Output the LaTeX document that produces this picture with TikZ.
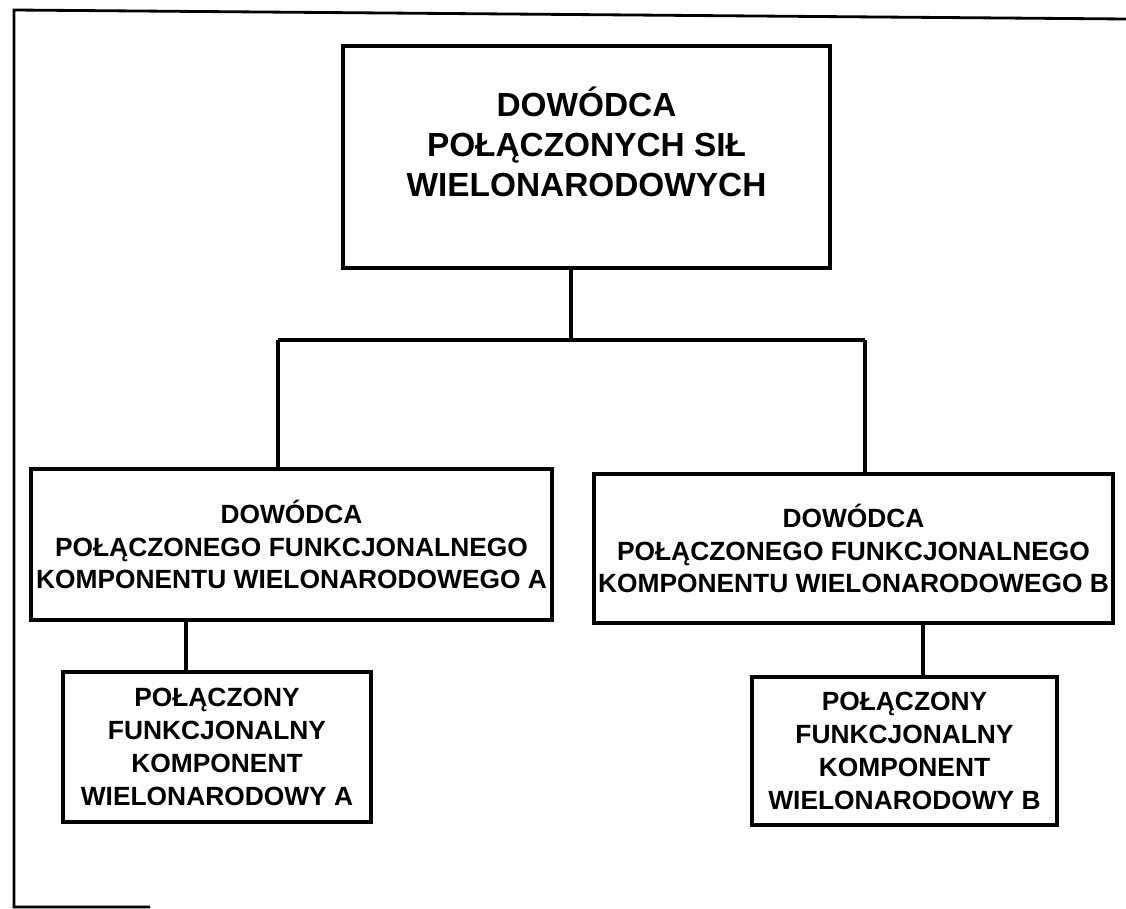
\documentclass[tikz,border=0pt]{standalone}
\usepackage{fontspec}
\setmainfont{Liberation Sans}
\usetikzlibrary{positioning}

\tikzset{
  unit/.style={draw, line width=2.2pt, align=center, inner sep=0pt,
               font=\bfseries\fontsize{15}{18.7}\selectfont},
  topunit/.style={draw, line width=2.2pt, inner sep=0pt},
  toptext/.style={align=center, inner sep=0pt,
               font=\bfseries\fontsize{19}{22.7}\selectfont},
  link/.style={line width=1.9pt},
}

\begin{document}
\begin{tikzpicture}[x=0.02cm, y=-0.02cm]
\useasboundingbox (0,0) rectangle (1126,909);

%---------------------------------------
% Page frame
%---------------------------------------
\draw[line width=1.6pt] (1126,19) -- (14,10) -- (14,907) -- (150,907);

%---------------------------------------
% Boxes
%---------------------------------------
\node[topunit, minimum width=9.74cm, minimum height=4.44cm] (jfc) at (586.5,157) {};
\node[toptext] (jfclabel) at ([yshift=0.3cm]jfc.center)
  {DOWÓDCA\\POŁĄCZONYCH SIŁ\\WIELONARODOWYCH};

\node[unit, minimum width=10.42cm, minimum height=3.02cm] (cmdA) at (291.5,544.5)
  {DOWÓDCA\\POŁĄCZONEGO FUNKCJONALNEGO\\KOMPONENTU WIELONARODOWEGO A};
\node[unit, minimum width=10.38cm, minimum height=2.98cm] (cmdB) at (853.5,548.5)
  {DOWÓDCA\\POŁĄCZONEGO FUNKCJONALNEGO\\KOMPONENTU WIELONARODOWEGO B};

\node[unit, minimum width=6.16cm, minimum height=3.0cm] (compA) at (217,747)
  {POŁĄCZONY\\FUNKCJONALNY\\KOMPONENT\\WIELONARODOWY A};
\node[unit, minimum width=6.1cm, minimum height=2.96cm] (compB) at (904.5,751)
  {POŁĄCZONY\\FUNKCJONALNY\\KOMPONENT\\WIELONARODOWY B};

%---------------------------------------
% Connectors
%---------------------------------------
\coordinate (split)  at (571,340);
\coordinate (splitA) at (278,340);
\coordinate (splitB) at (865,340);
\coordinate (dropA)  at (186,620);
\coordinate (dropB)  at (923,623);

\draw[link] (split |- jfc.south) -- (split);
\draw[link] (splitA) -- (splitB);
\draw[link] (splitA) -- (splitA |- cmdA.north);
\draw[link] (splitB) -- (splitB |- cmdB.north);
\draw[link] (dropA |- cmdA.south) -- (dropA |- compA.north);
\draw[link] (dropB |- cmdB.south) -- (dropB |- compB.north);

\end{tikzpicture}
\end{document}
